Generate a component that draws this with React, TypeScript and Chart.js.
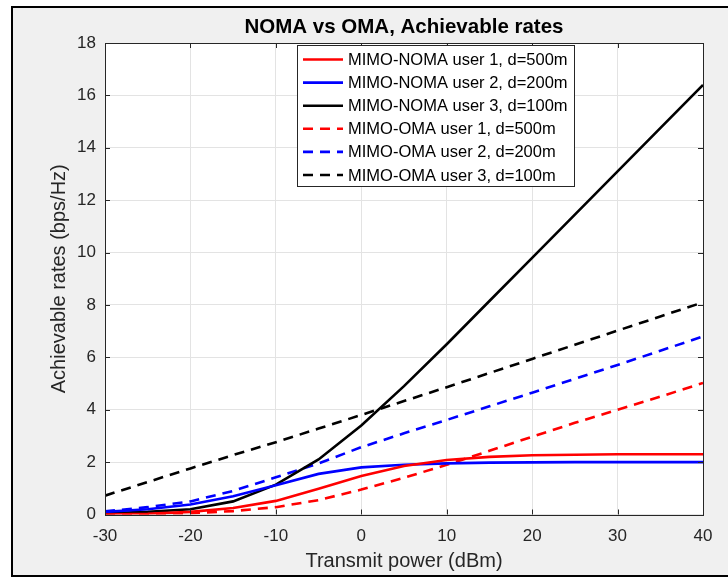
import React, { useEffect, useRef } from "react";
import { Chart, registerables } from "chart.js";

Chart.register(...registerables);

const powerDbm = [-30, -25, -20, -15, -10, -5, 0, 5, 10, 15, 20, 25, 30, 35, 40];
const nomaUser1 = [0.0, 0.03, 0.1, 0.25, 0.52, 0.98, 1.47, 1.85, 2.08, 2.2, 2.26, 2.28, 2.3, 2.3, 2.3];
const nomaUser2 = [0.1, 0.2, 0.38, 0.7, 1.12, 1.55, 1.8, 1.9, 1.95, 1.98, 1.99, 2.0, 2.0, 2.0, 2.0];
const nomaUser3 = [0.05, 0.1, 0.2, 0.5, 1.14, 2.1, 3.4, 4.9, 6.5, 8.15, 9.8, 11.45, 13.1, 14.75, 16.4];
const omaUser1 = [0.0, 0.02, 0.05, 0.13, 0.28, 0.55, 0.95, 1.4, 1.9, 2.43, 2.97, 3.5, 4.0, 4.5, 5.02];
const omaUser2 = [0.12, 0.28, 0.5, 0.9, 1.42, 1.95, 2.57, 3.1, 3.61, 4.13, 4.65, 5.18, 5.71, 6.25, 6.8];
const omaUser3 = [0.72, 1.24, 1.76, 2.27, 2.76, 3.28, 3.8, 4.33, 4.86, 5.4, 5.94, 6.48, 7.02, 7.56, 8.1];

const seriesLabels = [
  "MIMO-NOMA user 1, d=500m",
  "MIMO-NOMA user 2, d=200m",
  "MIMO-NOMA user 3, d=100m",
  "MIMO-OMA user 1, d=500m",
  "MIMO-OMA user 2, d=200m",
  "MIMO-OMA user 3, d=100m",
];
const seriesColors = ["#ff0000", "#0000ff", "#000000", "#ff0000", "#0000ff", "#000000"];
const seriesData = [nomaUser1, nomaUser2, nomaUser3, omaUser1, omaUser2, omaUser3];
const seriesDashed = [false, false, false, true, true, true];

const chartTitle = "NOMA vs OMA, Achievable rates";
const xTitle = "Transmit power (dBm)";
const yTitle = "Achievable rates (bps/Hz)";

const FONT = "'Liberation Sans', Arial, Helvetica, sans-serif";
const AXIS_COLOR = "#262626";

const framePlugin = {
  id: "frame",
  beforeDraw(chart: any) {
    const { ctx, width, height, chartArea } = chart;
    ctx.save();
    ctx.fillStyle = "#ffffff";
    ctx.fillRect(0, 0, width, height);
    ctx.fillStyle = "#f0f0f0";
    ctx.fillRect(12, 7, width - 12, 569);
    ctx.strokeStyle = "#000000";
    ctx.lineWidth = 2;
    ctx.beginPath();
    ctx.moveTo(width + 2, 7);
    ctx.lineTo(12, 7);
    ctx.lineTo(12, 576);
    ctx.lineTo(width + 2, 576);
    ctx.stroke();
    ctx.fillStyle = "#ffffff";
    ctx.fillRect(chartArea.left, chartArea.top, chartArea.right - chartArea.left, chartArea.bottom - chartArea.top);
    ctx.fillStyle = "#000000";
    ctx.font = `bold 20.5px ${FONT}`;
    ctx.textAlign = "center";
    ctx.textBaseline = "middle";
    ctx.fillText(chartTitle, (chartArea.left + chartArea.right) / 2, 27);
    ctx.restore();
  },
  afterDraw(chart: any) {
    const { ctx, chartArea, scales } = chart;
    const { left, right, top, bottom } = chartArea;
    ctx.save();
    ctx.strokeStyle = AXIS_COLOR;
    ctx.lineWidth = 1;
    ctx.strokeRect(Math.round(left) + 0.5, Math.round(top) + 0.5, Math.round(right - left), Math.round(bottom - top));
    const tl = 5;
    ctx.beginPath();
    scales.x.ticks.forEach((t: any) => {
      const px = Math.round(scales.x.getPixelForValue(t.value)) + 0.5;
      ctx.moveTo(px, bottom);
      ctx.lineTo(px, bottom - tl);
      ctx.moveTo(px, top);
      ctx.lineTo(px, top + tl);
    });
    scales.y.ticks.forEach((t: any) => {
      const py = Math.round(scales.y.getPixelForValue(t.value)) + 0.5;
      ctx.moveTo(left, py);
      ctx.lineTo(left + tl, py);
      ctx.moveTo(right, py);
      ctx.lineTo(right - tl, py);
    });
    ctx.stroke();

    // legend
    const bx = 297.5, by = 45.5, bw = 277, bh = 141;
    ctx.fillStyle = "#ffffff";
    ctx.fillRect(bx, by, bw, bh);
    ctx.strokeStyle = AXIS_COLOR;
    ctx.lineWidth = 1;
    ctx.strokeRect(bx, by, bw, bh);
    ctx.font = `16.5px ${FONT}`;
    ctx.textAlign = "left";
    ctx.textBaseline = "middle";
    chart.data.datasets.forEach((ds: any, i: number) => {
      const y = 59.5 + i * 23.1;
      ctx.strokeStyle = ds.borderColor;
      ctx.lineWidth = ds.borderWidth;
      ctx.setLineDash(ds.borderDash || []);
      ctx.beginPath();
      ctx.moveTo(303, y);
      ctx.lineTo(343, y);
      ctx.stroke();
      ctx.setLineDash([]);
      ctx.fillStyle = "#000000";
      ctx.fillText(ds.label, 348, y + 1);
    });
    ctx.restore();
  },
};

export default function App() {
  const canvasRef = useRef<HTMLCanvasElement | null>(null);

  useEffect(() => {
    document.body.style.margin = "0";
    const canvas = canvasRef.current;
    if (!canvas) return;
    const datasets = seriesLabels.map((label, i) => ({
      label,
      data: powerDbm.map((x, j) => ({ x, y: seriesData[i][j] })),
      borderColor: seriesColors[i],
      backgroundColor: seriesColors[i],
      borderWidth: 2.6,
      borderDash: seriesDashed[i] ? [10, 7] : [],
      pointRadius: 0,
      tension: 0,
      fill: false,
    }));
    const chart = new Chart(canvas, {
      type: "line",
      data: { datasets },
      plugins: [framePlugin],
      options: {
        animation: false,
        responsive: false,
        maintainAspectRatio: false,
        devicePixelRatio: 1,
        layout: { padding: { left: 0, top: 43, right: 25, bottom: 0 } },
        plugins: {
          legend: { display: false },
          title: { display: false },
          tooltip: { enabled: false },
        },
        scales: {
          x: {
            type: "linear",
            min: -30,
            max: 40,
            afterFit: (s: any) => {
              s.height = 63.5;
            },
            ticks: {
              stepSize: 10,
              color: AXIS_COLOR,
              font: { family: FONT, size: 17 },
              padding: 12,
              maxRotation: 0,
            },
            grid: { color: "#e3e3e3", drawTicks: false, lineWidth: 1 },
            border: { display: false },
            title: {
              display: true,
              text: xTitle,
              color: AXIS_COLOR,
              font: { family: FONT, size: 20 },
              padding: { top: 0, bottom: 5 },
            },
          },
          y: {
            type: "linear",
            min: 0,
            max: 18,
            afterFit: (s: any) => {
              s.width = 105;
            },
            ticks: {
              stepSize: 2,
              color: AXIS_COLOR,
              font: { family: FONT, size: 17 },
              padding: 9,
            },
            grid: { color: "#e3e3e3", drawTicks: false, lineWidth: 1 },
            border: { display: false },
            title: {
              display: true,
              text: yTitle,
              color: AXIS_COLOR,
              font: { family: FONT, size: 20 },
              padding: { top: 47, bottom: 0 },
            },
          },
        },
      },
    });
    return () => chart.destroy();
  }, []);

  return <canvas ref={canvasRef} width={728} height={578} style={{ display: "block" }} />;
}
